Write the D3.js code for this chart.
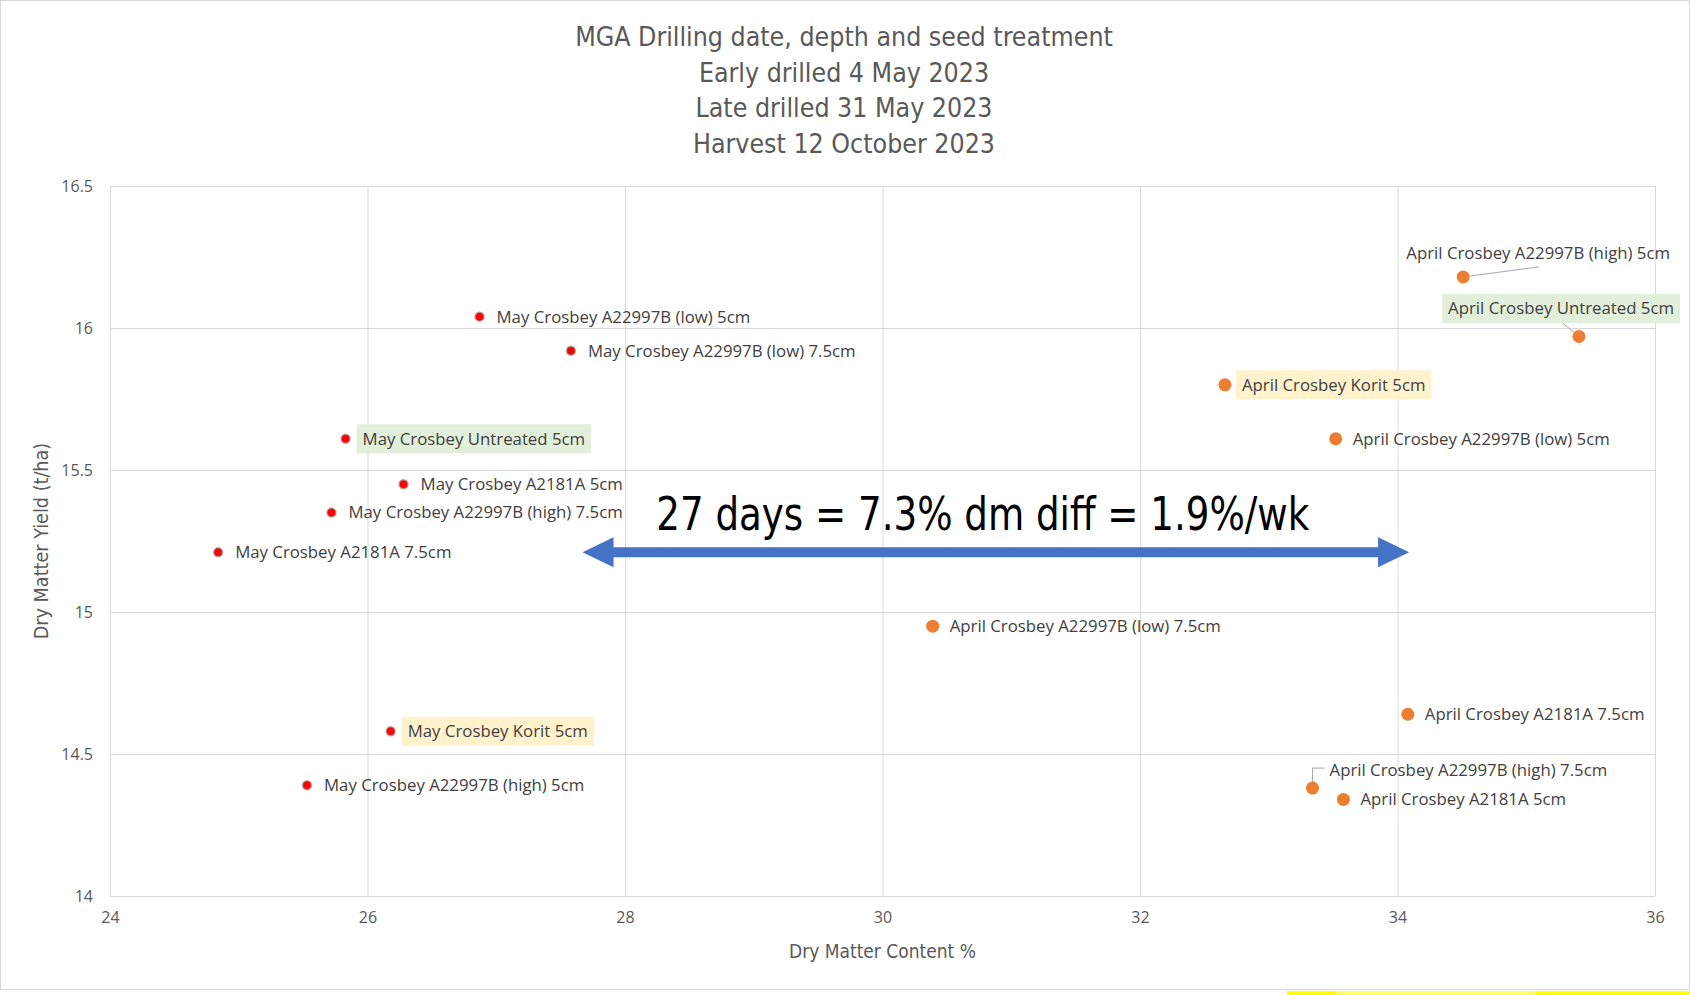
<!DOCTYPE html>
<html>
<head>
<meta charset="utf-8">
<script src="https://cdn.jsdelivr.net/npm/d3@7"></script>
<style>
  body { margin: 0; background: #fff; }
  svg { display: block; }
  .narrow { font-family: "Liberation Sans Narrow", "DejaVu Sans Condensed", "Liberation Sans", sans-serif; }
  .lbl { font-family: "Open Sans", "Noto Sans", sans-serif; }
</style>
</head>
<body>
<svg width="1690" height="995"></svg>
<script>
// chart text
const titleLines = ["MGA Drilling date, depth and seed treatment", "Early drilled 4 May 2023", "Late drilled 31 May 2023", "Harvest 12 October 2023"];
const xTitle = "Dry Matter Content %";
const yTitle = "Dry Matter Yield (t/ha)";
const arrowText = "27 days = 7.3% dm diff = 1.9%/wk";

// axis ticks
const xTicks = [24, 26, 28, 30, 32, 34, 36];
const yTicks = [14, 14.5, 15, 15.5, 16, 16.5];

// May drilled (late) series
const mayNames = ["May Crosbey A22997B (low) 5cm", "May Crosbey A22997B (low) 7.5cm", "May Crosbey Untreated 5cm",
  "May Crosbey A2181A 5cm", "May Crosbey A22997B (high) 7.5cm", "May Crosbey A2181A 7.5cm",
  "May Crosbey Korit 5cm", "May Crosbey A22997B (high) 5cm"];
const mayDM = [26.87, 27.58, 25.83, 26.28, 25.72, 24.84, 26.18, 25.53];
const mayYield = [16.04, 15.92, 15.61, 15.45, 15.35, 15.21, 14.58, 14.39];

// April drilled (early) series
const aprilNames = ["April Crosbey A22997B (high) 5cm", "April Crosbey Untreated 5cm", "April Crosbey Korit 5cm",
  "April Crosbey A22997B (low) 5cm", "April Crosbey A22997B (low) 7.5cm", "April Crosbey A2181A 7.5cm",
  "April Crosbey A22997B (high) 7.5cm", "April Crosbey A2181A 5cm"];
const aprilDM = [34.51, 35.41, 32.66, 33.52, 30.39, 34.08, 33.34, 33.58];
const aprilYield = [16.18, 15.97, 15.80, 15.61, 14.95, 14.64, 14.38, 14.34];

// arrow spans between the two groups (in axis units)
const arrowFrom = [27.67, 15.21];
const arrowTo = [34.09, 15.21];

// highlighted labels
const highlight = {
  "May Crosbey Untreated 5cm": "#e2efda",
  "April Crosbey Untreated 5cm": "#e2efda",
  "May Crosbey Korit 5cm": "#fff2cc",
  "April Crosbey Korit 5cm": "#fff2cc"
};

const svg = d3.select("svg"),
      width = +svg.attr("width"),
      height = +svg.attr("height");

const margin = { left: 110, right: 35, top: 186, bottom: 99 };

const x = d3.scaleLinear().domain([24, 36]).range([margin.left, width - margin.right]);
const y = d3.scaleLinear().domain([14, 16.5]).range([height - margin.bottom, margin.top]);

// outer chart border
svg.append("rect")
    .attr("x", 0.5).attr("y", 0.5)
    .attr("width", width - 1).attr("height", 989)
    .attr("fill", "#fff")
    .attr("stroke", "#d9d9d9");

// yellow shape peeking in at the bottom
svg.append("rect").attr("x", 1287).attr("y", 991).attr("width", 403).attr("height", 4).attr("fill", "#ffff00");
svg.append("rect").attr("x", 1335).attr("y", 991).attr("width", 200).attr("height", 4).attr("fill", "#ffff66");

// title
svg.append("g").selectAll("text")
    .data(titleLines)
    .enter().append("text")
    .attr("class", "narrow")
    .attr("x", 844)
    .attr("y", (d, i) => 46 + i * 35.6)
    .attr("text-anchor", "middle")
    .attr("font-size", 26.5)
    .attr("fill", "#595959")
    .text(d => d);

// gridlines + tick labels
const xAxis = svg.append("g")
    .attr("transform", `translate(0,${y(14)})`)
    .call(d3.axisBottom(x).tickValues(xTicks).tickSize(-(y(14) - y(16.5))).tickPadding(16).tickFormat(d3.format("d")));
const yAxis = svg.append("g")
    .attr("transform", `translate(${x(24)},0)`)
    .call(d3.axisLeft(y).tickValues(yTicks).tickSize(-(x(36) - x(24))).tickPadding(17).tickFormat(d => d));

[xAxis, yAxis].forEach(a => {
    a.select(".domain").remove();
    a.selectAll(".tick line").attr("stroke", "#d9d9d9").attr("stroke-width", 1);
    a.selectAll(".tick text")
        .attr("class", "lbl")
        .attr("font-size", 16)
        .attr("fill", "#595959");
});

// axis titles
svg.append("text")
    .attr("class", "narrow")
    .attr("x", x(30)).attr("y", 958)
    .attr("text-anchor", "middle")
    .attr("font-size", 19)
    .attr("fill", "#595959")
    .text(xTitle);

svg.append("text")
    .attr("class", "narrow")
    .attr("transform", `translate(48,${(y(14) + y(16.5)) / 2}) rotate(-90)`)
    .attr("text-anchor", "middle")
    .attr("font-size", 19.6)
    .attr("fill", "#595959")
    .text(yTitle);

// build point records from the arrays
const mayPts = mayNames.map((n, i) => ({ name: n, dm: mayDM[i], yld: mayYield[i], series: "may" }));
const aprilPts = aprilNames.map((n, i) => ({ name: n, dm: aprilDM[i], yld: aprilYield[i], series: "april" }));

// label placement tweaks (pixel offsets from the point), default is to the right
const labelPlace = {
    "April Crosbey A22997B (high) 5cm": { dx: 75, dy: -24, anchor: "middle", leader: [[0, 0], [76, -10]] },
    "April Crosbey Untreated 5cm": { dx: -18, dy: -28, anchor: "middle", leader: [[0, 0], [-17, -14]] },
    "April Crosbey A22997B (high) 7.5cm": { dx: 17, dy: -18, anchor: "start", leader: [[0, -6], [0, -20], [12, -20]] }
};

// leader lines
const lineGen = d3.line();
svg.append("g").selectAll("path")
    .data(aprilPts.filter(d => labelPlace[d.name]))
    .enter().append("path")
    .attr("d", d => lineGen(labelPlace[d.name].leader.map(p => [x(d.dm) + p[0], y(d.yld) + p[1]])))
    .attr("fill", "none")
    .attr("stroke", "#a6a6a6")
    .attr("stroke-width", 1);

// labels
const allPts = mayPts.concat(aprilPts);
const labelG = svg.append("g").selectAll("g")
    .data(allPts)
    .enter().append("g")
    .attr("transform", d => {
        const p = labelPlace[d.name] || { dx: 17, dy: 0 };
        return `translate(${x(d.dm) + p.dx},${y(d.yld) + p.dy})`;
    });

labelG.append("text")
    .attr("class", "lbl")
    .attr("font-size", 16.8)
    .attr("fill", "#404040")
    .attr("dy", "0.35em")
    .attr("text-anchor", d => (labelPlace[d.name] || { anchor: "start" }).anchor)
    .text(d => d.name);

// background boxes for highlighted labels
labelG.filter(d => highlight[d.name]).each(function (d) {
    const g = d3.select(this);
    const bb = g.select("text").node().getBBox();
    g.insert("rect", "text")
        .attr("x", bb.x - 6).attr("y", -14.5)
        .attr("width", bb.width + 12).attr("height", 29)
        .attr("fill", highlight[d.name]);
});

// markers
svg.append("g").selectAll("circle")
    .data(mayPts)
    .enter().append("circle")
    .attr("cx", d => x(d.dm))
    .attr("cy", d => y(d.yld))
    .attr("r", 4.5)
    .attr("fill", "#ff0000")
    .attr("stroke", "#a0a0a0")
    .attr("stroke-opacity", 0.8)
    .attr("stroke-width", 1.5);

svg.append("g").selectAll("circle")
    .data(aprilPts)
    .enter().append("circle")
    .attr("cx", d => x(d.dm))
    .attr("cy", d => y(d.yld))
    .attr("r", 6.5)
    .attr("fill", "#ed7d31");

// double-headed arrow
const ax1 = x(arrowFrom[0]), ax2 = x(arrowTo[0]), ay = y(arrowFrom[1]);
const headL = 31, headH = 15, body = 5;
svg.append("path")
    .attr("d", [
        [ax1, ay], [ax1 + headL, ay - headH], [ax1 + headL, ay - body], [ax2 - headL, ay - body],
        [ax2 - headL, ay - headH], [ax2, ay], [ax2 - headL, ay + headH], [ax2 - headL, ay + body],
        [ax1 + headL, ay + body], [ax1 + headL, ay + headH]
    ].map((p, i) => (i ? "L" : "M") + p[0] + "," + p[1]).join("") + "Z")
    .attr("fill", "#4472c4");

// callout text, squeezed to the narrow width of the original font
svg.append("text")
    .attr("class", "narrow")
    .attr("x", (ax1 + ax2) / 2 - 13)
    .attr("y", ay - 22)
    .attr("text-anchor", "middle")
    .attr("font-size", 47)
    .attr("textLength", 653)
    .attr("lengthAdjust", "spacingAndGlyphs")
    .attr("fill", "#000")
    .text(arrowText);
</script>
</body>
</html>
